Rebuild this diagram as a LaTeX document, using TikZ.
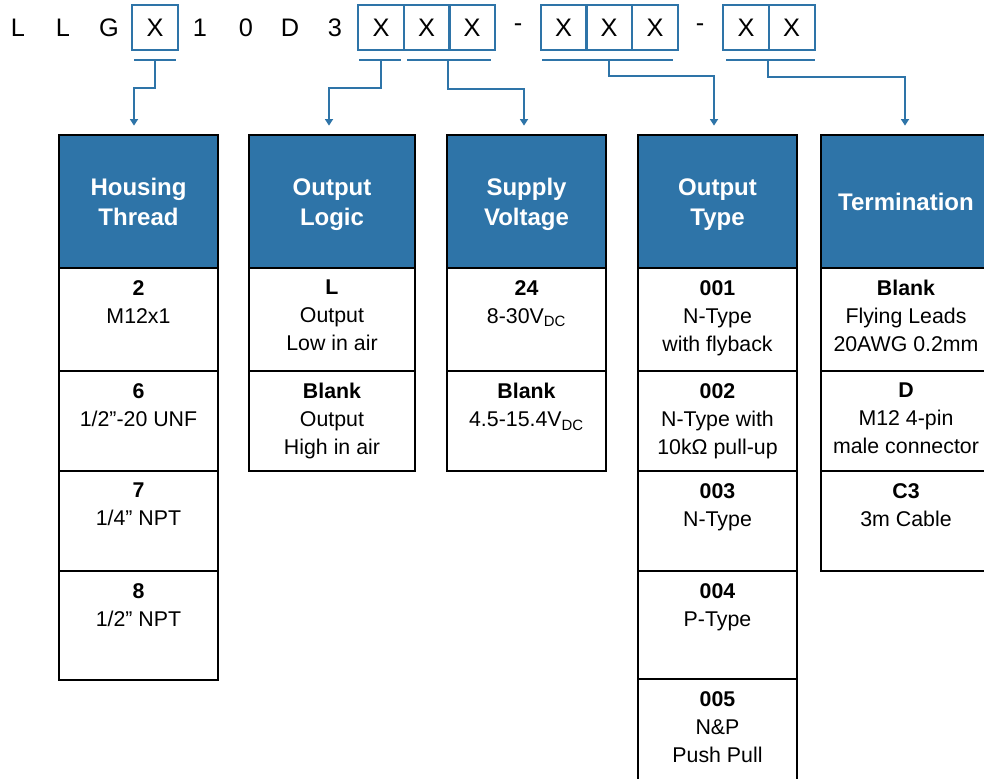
\documentclass[tikz,border=0pt]{standalone}
\usepackage{fontspec}
\setmainfont{Liberation Sans}
\usetikzlibrary{arrows.meta}
\definecolor{codeblue}{RGB}{46,116,168}
\newcommand{\hstrut}{\rule[-4pt]{0pt}{20.9pt}}

\begin{document}
\begin{tikzpicture}[
    x=0.75pt, y=-0.75pt,
    >={Triangle[width=6pt,length=5pt]},
    letter/.style={
        font=\fontsize{19}{23}\selectfont,
        inner sep=0pt
    },
    slot/.style={
        draw=codeblue, line width=1.5pt,
        minimum width=34.5pt,
        minimum height=33.75pt,
        inner sep=0pt,
        font=\fontsize{19}{23}\selectfont
    },
    bar/.style={
        draw=codeblue, line width=1.5pt
    },
    link/.style={
        ->, color=codeblue, line width=1.5pt,
        shorten >=7pt
    },
    head/.style={
        draw, line width=1.5pt,
        fill=codeblue, text=white,
        anchor=north, outer sep=0pt,
        minimum width=119.25pt,
        minimum height=99.75pt,
        align=center,
        font=\fontsize{18}{22.5}\selectfont\bfseries
    },
    cell/.style={
        draw, line width=1.5pt,
        anchor=north, outer sep=0pt,
        inner sep=0pt,
        minimum width=119.25pt,
        minimum height=75pt,
        label={[celltext]north:{#1}}
    },
    celltext/.style={
        anchor=north, inner sep=0pt,
        yshift=-9pt,
        align=center,
        font=\fontsize{16}{21}\selectfont
    }
]

\useasboundingbox (0,0) rectangle (984,778);

\node[letter] (l1) at (18,27.5) {L};
\node[letter] (l2) at (63,27.5) {L};
\node[letter] (l3) at (109,27.5) {G};
\node[slot] (s1) at (155,27.5) {X};
\node[letter] (l4) at (200,27.5) {1};
\node[letter] (l5) at (246,27.5) {0};
\node[letter] (l6) at (290,27.5) {D};
\node[letter] (l7) at (335,27.5) {3};
\node[slot] (s2) at (381,27.5) {X};
\node[slot] (s3) at (426.5,27.5) {X};
\node[slot] (s4) at (472,27.5) {X};
\node[letter] (l8) at (518,27.5) {-};
\node[slot] (s5) at (563.5,27.5) {X};
\node[slot] (s6) at (609,27.5) {X};
\node[slot] (s7) at (655,27.5) {X};
\node[letter] (l9) at (700,27.5) {-};
\node[slot] (s8) at (746,27.5) {X};
\node[slot] (s9) at (791.5,27.5) {X};


\node[head] (h1) at (138.5,135) {\hstrut Housing\\Thread\hstrut};
\node[cell={\textbf{2}\\M12x1}, minimum height=77.25pt] (c11) at (138.5,268) {};
\node[cell={\textbf{6}\\1/2”-20 UNF}] (c12) at (138.5,371) {};
\node[cell={\textbf{7}\\1/4” NPT}] (c13) at (138.5,471) {};
\node[cell={\textbf{8}\\1/2” NPT}, minimum height=81.75pt] (c14) at (138.5,571) {};

\node[head, minimum width=124.5pt] (h2) at (332,135) {\hstrut Output\\Logic\hstrut};
\node[cell={\textbf{L}\\Output\\Low in air}, minimum width=124.5pt, minimum height=77.25pt] (c21) at (332,268) {};
\node[cell={\textbf{Blank}\\Output\\High in air}, minimum width=124.5pt] (c22) at (332,371) {};

\node[head] (h3) at (526.5,135) {\hstrut Supply\\Voltage\hstrut};
\node[cell={\textbf{24}\\8-30V\textsubscript{DC}}, minimum height=77.25pt] (c31) at (526.5,268) {};
\node[cell={\textbf{Blank}\\4.5-15.4V\textsubscript{DC}}] (c32) at (526.5,371) {};

\node[head] (h4) at (717.5,135) {\hstrut Output\\Type\hstrut};
\node[cell={\textbf{001}\\N-Type\\with flyback}, minimum height=77.25pt] (c41) at (717.5,268) {};
\node[cell={\textbf{002}\\N-Type with\\10kΩ pull-up}] (c42) at (717.5,371) {};
\node[cell={\textbf{003}\\N-Type}] (c43) at (717.5,471) {};
\node[cell={\textbf{004}\\P-Type}, minimum height=81pt] (c44) at (717.5,571) {};
\node[cell={\textbf{005}\\N\&P\\Push Pull}, minimum height=82pt] (c45) at (717.5,679) {};

\node[head, minimum width=127.5pt] (h5) at (906,135) {Termination};
\node[cell={\textbf{Blank}\\Flying Leads\\20AWG 0.2mm}, minimum width=127.5pt, minimum height=77.25pt] (c51) at (906,268) {};
\node[cell={\textbf{D}\\M12 4-pin\\male connector}, minimum width=127.5pt] (c52) at (906,371) {};
\node[cell={\textbf{C3}\\3m Cable}, minimum width=127.5pt] (c53) at (906,471) {};


\coordinate (u1a) at (134,60);
\coordinate (u1b) at (176,60);
\coordinate (u2a) at (359,60);
\coordinate (u2b) at (401,60);
\coordinate (u3a) at (407,60);
\coordinate (u3b) at (491,60);
\coordinate (u4a) at (542,60);
\coordinate (u4b) at (673,60);
\coordinate (u5a) at (726,60);
\coordinate (u5b) at (815,60);

\draw[bar] (u1a) -- (u1b);
\draw[bar] (u2a) -- (u2b);
\draw[bar] (u3a) -- (u3b);
\draw[bar] (u4a) -- (u4b);
\draw[bar] (u5a) -- (u5b);

\coordinate (d1) at (155,60);
\coordinate (d2) at (381,60);
\coordinate (d3) at (448,60);
\coordinate (d4) at (609,60);
\coordinate (d5) at (768,60);

\coordinate (k1) at (134,88);
\coordinate (k2) at (329,88);
\coordinate (k3) at (524,89);
\coordinate (k4) at (714,76);
\coordinate (k5) at (905,77);

\draw[link] (d1) |- (k1) -- (k1 |- h1.north);
\draw[link] (d2) |- (k2) -- (k2 |- h2.north);
\draw[link] (d3) |- (k3) -- (k3 |- h3.north);
\draw[link] (d4) |- (k4) -- (k4 |- h4.north);
\draw[link] (d5) |- (k5) -- (k5 |- h5.north);

\end{tikzpicture}
\end{document}
